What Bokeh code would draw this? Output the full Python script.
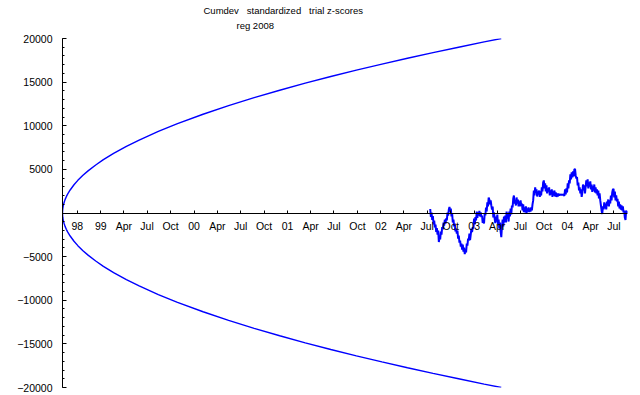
from datetime import date
import numpy as np
from bokeh.plotting import figure
from bokeh.models import Range1d, LinearAxis, FixedTicker, Title
from bokeh.embed import file_html
from bokeh.resources import INLINE

# ---------------- data ----------------
title_main = "Cumdev\u00a0\u00a0 standardized\u00a0\u00a0 trial z-scores"
title_sub = "reg 2008"

start_date = "1998-08-04"      # origin of the time axis (day 0)
end_date = "2004-08-23"        # right end of the time axis

tick_dates = ["1998-10-01", "1999-01-01", "1999-04-01", "1999-07-01", "1999-10-01",
              "2000-01-01", "2000-04-01", "2000-07-01", "2000-10-01",
              "2001-01-01", "2001-04-01", "2001-07-01", "2001-10-01",
              "2002-01-01", "2002-04-01", "2002-07-01", "2002-10-01",
              "2003-01-01", "2003-04-01", "2003-07-01", "2003-10-01",
              "2004-01-01", "2004-04-01", "2004-07-01"]
tick_labels = ["98", "99", "Apr", "Jul", "Oct", "00", "Apr", "Jul", "Oct",
               "01", "Apr", "Jul", "Oct", "02", "Apr", "Jul", "Oct",
               "03", "Apr", "Jul", "Oct", "04", "Apr", "Jul"]

y_major_ticks = [-20000, -15000, -10000, -5000, 0, 5000, 10000, 15000, 20000]
y_minor_ticks = list(range(-20000, 20001, 1000))
y_tick_labels = ["\u221220000", "\u221215000", "\u221210000", "\u22125000", "",
                 "5000", "10000", "15000", "20000"]

# 0.05 probability envelope, days since start
envelope_days = [0, 1, 3, 6, 10, 15, 20, 30, 45, 60, 80, 100, 130, 160, 200, 250, 300,
                 375, 450, 550, 650, 750, 850, 950, 1050, 1150, 1250, 1350, 1450,
                 1550, 1650, 1717]
envelope_values = [0, 480, 840, 1180, 1530, 1870, 2160, 2640, 3240, 3740, 4320, 4830,
                   5500, 6110, 6830, 7630, 8360, 9350, 10240, 11320, 12310, 13220,
                   14070, 14880, 15640, 16370, 17070, 17740, 18380, 19000, 19610, 20000]

# cumulative deviation, equally spaced samples from walk_start to walk_end
walk_start = "2002-07-13"
walk_end = "2004-08-23"
walk_values = [
    460, -460, 60, -800, -340, -1320, -860, -1660, -1320, -2180,
    -1720, -2470, -2010, -3330, -2700, -3040, -2120, -2470, -1610, -1890,
    -1090, -1440, -750, -1210, -630, -860, 60, -290, 400, 690,
    170, 520, -400, -60, -1090, -750, -1550, -1210, -2120, -1780,
    -2350, -2010, -2930, -2580, -3390, -3160, -3850, -3500, -4190, -3620,
    -4420, -3960, -4710, -4190, -4530, -3500, -3730, -2930, -3160, -2350,
    -3100, -2470, -1780, -2180, -1610, -1780, -630, -1320, -460, -860,
    170, -570, 60, -290, 230, -400, 60, -460, -290, -1150,
    -630, -1210, -60, -290, 630, 170, 1210, 750, 1780, 1550,
    980, 1440, 860, 400, 750, -520, 60, -630, -1150, -400,
    -980, -170, -1320, -750, -1780, -1090, -2120, -2760, -1550, -750,
    -1550, -400, -1090, -290, -1090, 170, -630, -60, -980, 170,
    -400, 520, -170, 860, 630, 1660, 2010, 1090, 1440, 860,
    1780, 1090, 1550, 750, 1320, 750, 1440, 860, 1090, 290,
    980, 110, 630, 60, 750, -60, 520, 170, 630, 110,
    520, 170, 630, 290, 980, 1440, 2580, 2010, 2930, 2350,
    2700, 1890, 2470, 2120, 2580, 1840, 2470, 2010, 2930, 2470,
    3500, 3730, 2810, 3390, 2470, 3160, 2240, 2810, 2470, 2930,
    2010, 2580, 2120, 2700, 1840, 2470, 2010, 2580, 1890, 2350,
    1840, 2240, 1890, 2240, 2010, 2120, 2070, 2120, 2070, 2120,
    2070, 2120, 1950, 2700, 2120, 2810, 2350, 3390, 2810, 3730,
    3390, 4420, 3850, 4650, 4080, 4760, 4190, 4990, 5050, 4310,
    3960, 4130, 3160, 3500, 2580, 2930, 2240, 2700, 1840, 2350,
    3270, 2580, 3160, 2240, 3040, 3730, 3040, 3850, 2810, 3500,
    3040, 3620, 2700, 3270, 2410, 3040, 2580, 3270, 2350, 2930,
    2240, 2700, 2010, 2580, 1660, 2240, 1440, 860, 290, -110,
    750, 400, 1210, 520, 1090, 400, 1320, 860, 1550, 750,
    1440, 1090, 2010, 1440, 2350, 2700, 2760, 1780, 2470, 1440,
    2010, 1320, 1610, 750, 1320, 520, 980, 400, 860, 290,
    750, 60, 290, -520, -800, 290, -60, 230,
]

# ---------------- helpers ----------------
def days_since_start(s):
    return (date.fromisoformat(s) - date.fromisoformat(start_date)).days

tick_days = [days_since_start(d) for d in tick_dates]
x_end = days_since_start(end_date)
walk_days = np.linspace(days_since_start(walk_start), days_since_start(walk_end), len(walk_values))
env_upper = list(envelope_values)
env_lower = [-v for v in envelope_values]

FONT = "Liberation Sans"
BLUE = "#0000FF"

p = figure(width=640, height=395, output_backend="svg", toolbar_location=None,
           x_axis_type=None, y_axis_type=None,
           x_range=Range1d(0, x_end), y_range=Range1d(-20000, 20000),
           min_border_left=62, min_border_right=13, min_border_top=38, min_border_bottom=8)
p.outline_line_color = None
p.background_fill_color = "white"
p.border_fill_color = "white"

# titles (added lowest first)
p.add_layout(Title(text=title_sub, align="left", offset=174, text_font=FONT,
                   text_font_size="9.5px", text_font_style="normal",
                   text_color="black", vertical_align="top", standoff=11), "above")
p.add_layout(Title(text=title_main, align="left", offset=141, text_font=FONT,
                   text_font_size="9.5px", text_font_style="normal",
                   text_color="black", vertical_align="bottom", standoff=-2), "above")

# y axis
yaxis = LinearAxis(ticker=FixedTicker(ticks=y_major_ticks, minor_ticks=y_minor_ticks),
                   major_label_overrides=dict(zip(y_major_ticks, y_tick_labels)))
yaxis.axis_line_color = "black"
yaxis.major_tick_in = 4
yaxis.major_tick_out = 0
yaxis.minor_tick_in = 2
yaxis.minor_tick_out = 0
yaxis.major_label_standoff = 10
yaxis.major_label_text_font = FONT
yaxis.major_label_text_font_size = "10.5px"
yaxis.major_label_text_color = "black"
p.add_layout(yaxis, "left")

# x axis drawn across y = 0
xaxis = LinearAxis(ticker=FixedTicker(ticks=tick_days, minor_ticks=[]),
                   major_label_overrides=dict(zip(tick_days, tick_labels)),
                   fixed_location=0)
xaxis.axis_line_color = "black"
xaxis.axis_line_width = 1.2
xaxis.major_tick_in = 3
xaxis.major_tick_out = 0
xaxis.minor_tick_line_color = None
xaxis.major_label_standoff = 7
xaxis.major_label_text_font = FONT
xaxis.major_label_text_font_size = "10.5px"
xaxis.major_label_text_color = "black"
p.add_layout(xaxis, "below")

# envelope and walk
p.line(envelope_days, env_upper, line_color=BLUE, line_width=1.4)
p.line(envelope_days, env_lower, line_color=BLUE, line_width=1.4)
p.line(walk_days, walk_values, line_color=BLUE, line_width=2)

open("out.html", "w").write(file_html(p, INLINE))
